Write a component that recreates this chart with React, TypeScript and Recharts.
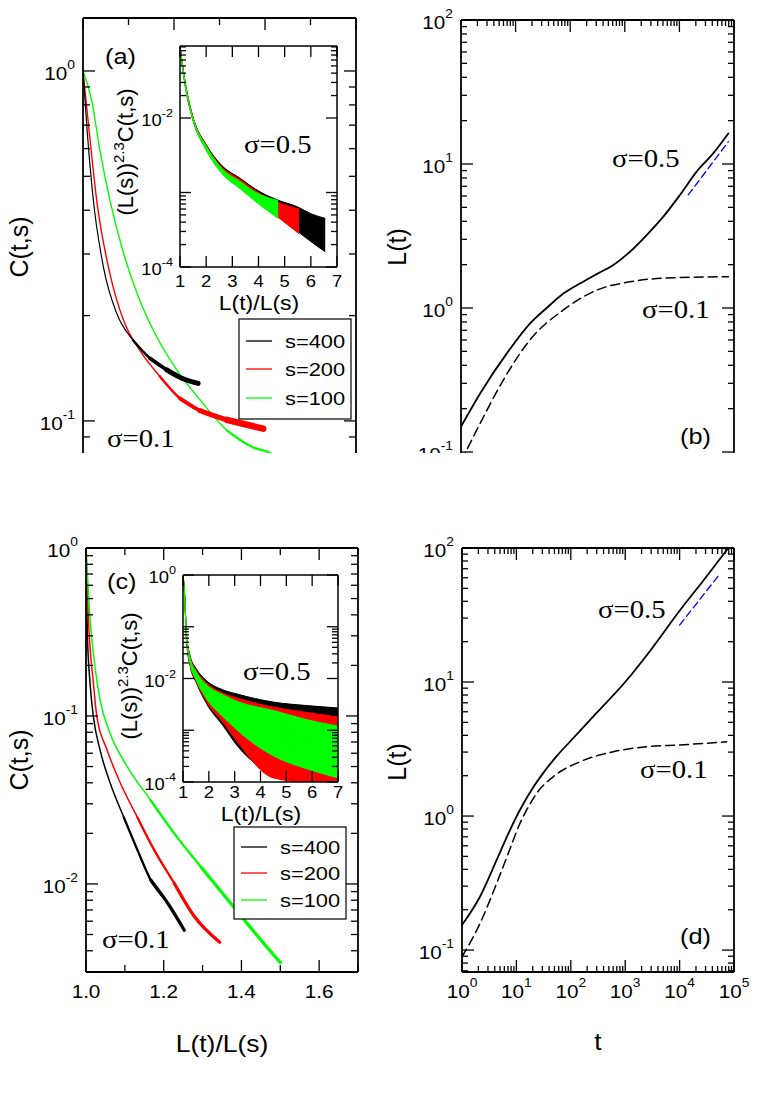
import React from 'react';
import { ComposedChart, Line, Area, XAxis, YAxis, CartesianGrid } from 'recharts';

const SX = 1.15;
const SANS = '"Liberation Sans", Arial, Helvetica, sans-serif';
const SERIF = '"Liberation Serif", "Times New Roman", Times, serif';
const BLACK = '#000000';
const RED = '#ff0000';
const GREEN = '#00ff00';
const BLUE = '#0000ff';

// ---------------- Panel (a): C(t,s) vs L(t)/L(s), sigma = 0.1
const a_x400 = [1.0, 1.0095, 1.0227, 1.0447, 1.074, 1.11, 1.147, 1.184, 1.22, 1.253];
const a_y400 = [1.0, 0.664, 0.428, 0.276, 0.203, 0.17, 0.151, 0.14, 0.132, 0.128];
const a_x200 = [1.0, 1.014, 1.03, 1.059, 1.089, 1.125, 1.169, 1.213, 1.257, 1.316, 1.396];
const a_y200 = [1.0, 0.664, 0.428, 0.264, 0.194, 0.159, 0.134, 0.116, 0.107, 0.1007, 0.095];
const a_x100 = [1.0, 1.019, 1.037, 1.059, 1.089, 1.125, 1.162, 1.206, 1.257, 1.316, 1.374, 1.411, 1.43];
const a_y100 = [1.0, 0.826, 0.595, 0.428, 0.302, 0.221, 0.174, 0.14, 0.115, 0.094, 0.084, 0.081, 0.078];

// Inset (a): (L(s))^2.3 C(t,s) vs L(t)/L(s), sigma = 0.5 (noisy bands: low / high)
const ia_x400 = [1.0, 1.2, 1.5, 2.0, 2.6, 3.3, 3.9, 4.7, 5.5, 6.0, 6.55];
const ia_hi400 = [0.092, 0.03, 0.0102, 0.0044, 0.0023, 0.00155, 0.0011, 0.0008, 0.00064, 0.00052, 0.00045];
const ia_lo400 = [0.088, 0.027, 0.0093, 0.0038, 0.0019, 0.00118, 0.0008, 0.00052, 0.0003, 0.00022, 0.00016];
const ia_x200 = [1.0, 1.2, 1.5, 2.0, 2.6, 3.3, 3.9, 4.7, 5.55];
const ia_hi200 = [0.091, 0.0295, 0.0101, 0.0043, 0.0022, 0.0015, 0.00105, 0.00075, 0.0006];
const ia_lo200 = [0.088, 0.027, 0.0094, 0.0038, 0.0019, 0.0012, 0.00082, 0.00048, 0.00028];
const ia_x100 = [1.0, 1.2, 1.5, 2.0, 2.6, 3.3, 3.9, 4.75];
const ia_hi100 = [0.09, 0.029, 0.0099, 0.0042, 0.0021, 0.0014, 0.001, 0.00078];
const ia_lo100 = [0.088, 0.027, 0.0093, 0.0037, 0.0018, 0.00112, 0.00075, 0.00045];

// ---------------- Panel (b): L(t) vs t
const b_t05 = [1, 2.24, 6.9, 18.3, 37, 75, 151, 305, 617, 1245, 2515, 5070, 10240, 20700, 41900, 78600];
const b_L05 = [0.15, 0.255, 0.484, 0.78, 1.0, 1.26, 1.48, 1.72, 1.99, 2.46, 3.21, 4.31, 6.1, 8.85, 11.9, 16.3];
const b_t01 = [1.0, 1.18, 2.24, 5.96, 18.3, 75, 305, 1230, 5000, 79000];
const b_L01 = [0.087, 0.098, 0.158, 0.316, 0.6, 0.97, 1.33, 1.52, 1.61, 1.65];
const b_tFit = [14500, 79000];
const b_LFit = [6.1, 14.3];

// ---------------- Panel (c): C(t,s) vs L(t)/L(s), sigma = 0.1
const c_x400 = [1.0, 1.0034, 1.0104, 1.019, 1.036, 1.062, 1.097, 1.132, 1.166, 1.21, 1.253];
const c_y400 = [1.0, 0.311, 0.157, 0.099, 0.063, 0.04, 0.025, 0.016, 0.0106, 0.0077, 0.0053];
const c_x200 = [1.0, 1.006, 1.019, 1.028, 1.054, 1.088, 1.132, 1.175, 1.227, 1.279, 1.344];
const c_y200 = [1.0, 0.39, 0.157, 0.099, 0.063, 0.04, 0.025, 0.016, 0.0101, 0.0064, 0.0045];
const c_x100 = [1.0, 1.01, 1.023, 1.036, 1.062, 1.106, 1.166, 1.227, 1.296, 1.366, 1.435, 1.5];
const c_y100 = [1.0, 0.39, 0.197, 0.125, 0.079, 0.05, 0.0316, 0.02, 0.0126, 0.008, 0.0051, 0.0034];

// Inset (c), sigma = 0.5
const ic_x = [1.0, 1.05, 1.14, 1.27, 1.53, 1.92, 2.56, 3.1, 4.5, 5.79, 7.0];
const ic_hi400 = [1.0, 0.55, 0.07, 0.028, 0.015, 0.009, 0.006, 0.005, 0.0035, 0.003, 0.0027];
const ic_lo400 = [1.0, 0.49, 0.052, 0.018, 0.008, 0.0032, 0.0012, 0.0005, 0.00015, 0.00012, 0.00012];
const ic_hi200 = [1.0, 0.54, 0.068, 0.027, 0.014, 0.0082, 0.0052, 0.0042, 0.0028, 0.0022, 0.0018];
const ic_lo200 = [1.0, 0.5, 0.054, 0.019, 0.0085, 0.0035, 0.0014, 0.0006, 0.00012, 0.0001, 0.0001];
const ic_hi100 = [1.0, 0.53, 0.066, 0.026, 0.013, 0.0075, 0.0048, 0.0036, 0.0024, 0.0016, 0.0012];
const ic_lo100 = [1.0, 0.51, 0.056, 0.02, 0.009, 0.004, 0.0018, 0.001, 0.00032, 0.00018, 0.00012];

// ---------------- Panel (d): L(t) vs t
const d_t05 = [1, 2.14, 4.34, 7, 11.6, 20, 31.3, 55, 97, 300, 1000, 3000, 10000, 30000, 78600];
const d_L05 = [0.154, 0.25, 0.47, 0.73, 1.11, 1.62, 2.1, 2.8, 3.6, 5.9, 10.0, 17.5, 34, 60, 100];
const d_t01 = [1.0, 2.14, 4.34, 7, 11.6, 16, 23.6, 47.8, 147, 604, 2483, 10000, 73400];
const d_L01 = [0.089, 0.158, 0.315, 0.52, 0.88, 1.14, 1.48, 1.97, 2.54, 3.02, 3.29, 3.39, 3.58];
const d_tFit = [10000, 55000];
const d_LFit = [26.6, 64];

// legend
const legendNames = ['s=400', 's=200', 's=100'];
const legendColors = [BLACK, RED, GREEN];

// ticks
const linTicksA = [1.0, 1.1, 1.2, 1.3, 1.4, 1.5, 1.6];
const linMajorsA = [1.0, 1.2, 1.4, 1.6];
const linTicksC = [1.0, 1.1, 1.2, 1.3, 1.4, 1.5, 1.6, 1.7];
const insetXTicks = [1, 2, 3, 4, 5, 6, 7];
const insetAYTicks = [0.0001, 0.0002, 0.0003, 0.0004, 0.0005, 0.0006, 0.0007, 0.0008, 0.0009, 0.001, 0.01, 0.02, 0.03, 0.04, 0.05, 0.06, 0.07, 0.08, 0.09];
const insetCYTicks = [0.0001, 0.0002, 0.0003, 0.0004, 0.0005, 0.0006, 0.0007, 0.0008, 0.0009, 0.001, 0.01, 0.02, 0.03, 0.04, 0.05, 0.06, 0.07, 0.08, 0.09, 0.1, 1];

function logTicks(lo: number, hi: number): number[] {
  const out: number[] = [];
  for (let e = Math.floor(Math.log10(lo)); e <= Math.ceil(Math.log10(hi)); e++) {
    for (let k = 1; k <= 9; k++) {
      const v = +(k * Math.pow(10, e)).toPrecision(6);
      if (v >= lo * 0.999999 && v <= hi * 1.000001) out.push(v);
    }
  }
  return out;
}
function decades(lo: number, hi: number): number[] {
  const out: number[] = [];
  for (let e = Math.ceil(Math.log10(lo) - 1e-9); e <= Math.floor(Math.log10(hi) + 1e-9); e++) out.push(+Math.pow(10, e).toPrecision(6));
  return out;
}

function pts(xs: number[], ys: number[]) {
  return xs.map((x, i) => ({ x, y: ys[i] }));
}
function band(xs: number[], lo: number[], hi: number[]) {
  return xs.map((x, i) => ({ x, band: [lo[i], hi[i]] }));
}

const near = (a: number, b: number) => Math.abs(a - b) <= 1e-6 * Math.max(Math.abs(a), Math.abs(b), 1e-12);

const pow10 = (supSize: number, rise: number) => (v: number) => {
  const e = Math.round(Math.log10(v));
  return [
    <tspan key="b">10</tspan>,
    <tspan key="e" dy={-rise} fontSize={supSize}>{String(e)}</tspan>,
  ];
};
const fixed1 = (v: number) => v.toFixed(1);
const plain = (v: number) => String(v);

type Side = 'left' | 'right' | 'top' | 'bottom';
interface AxisSpec {
  ticks: number[];
  majors: number[];
  labeled?: number[];
  label?: (v: number) => React.ReactNode;
}

function tickRenderer(side: Side, spec: AxisSpec, major: number, minor: number, font: number, labelOn: boolean, gap: number, dy: number) {
  return (props: any) => {
    const x = Number(props.x);
    const y = Number(props.y);
    const v = Number(props.payload ? props.payload.value : NaN);
    const isMajor = spec.majors.some((m) => near(m, v));
    const len = isMajor ? major : minor;
    let x2 = x;
    let y2 = y;
    if (side === 'left') x2 = x + len;
    else if (side === 'right') x2 = x - len;
    else if (side === 'top') y2 = y + len;
    else y2 = y - len;
    const labeled = spec.labeled ?? spec.majors;
    const show = labelOn && !!spec.label && labeled.some((m) => near(m, v));
    let lab: React.ReactNode = null;
    if (show) {
      if (side === 'left') {
        lab = (
          <g transform={`translate(${x - gap},${y + dy}) scale(${SX},1)`}>
            <text x={0} y={0} textAnchor="end" fontSize={font} fontFamily={SANS} fill="#000">{spec.label!(v)}</text>
          </g>
        );
      } else if (side === 'bottom') {
        lab = (
          <g transform={`translate(${x},${y + gap}) scale(${SX},1)`}>
            <text x={0} y={0} textAnchor="middle" fontSize={font} fontFamily={SANS} fill="#000">{spec.label!(v)}</text>
          </g>
        );
      }
    }
    return (
      <g>
        <line x1={x} y1={y} x2={x2} y2={y2} stroke="#000" strokeWidth={1.3} />
        {lab}
      </g>
    );
  };
}

const P = 70;

interface PanelProps {
  box: [number, number, number, number];
  clipBottom?: number;
  xDomain: [number, number];
  yDomain: [number, number];
  xLog?: boolean;
  yLog?: boolean;
  xAxis: AxisSpec;
  yAxis: AxisSpec;
  major: number;
  minor: number;
  font: number;
  xGap: number;
  yGap: number;
  yDy: number;
  frame: number;
  bg?: boolean;
  labelBottom?: boolean;
  children: React.ReactNode;
}

function Panel(p: PanelProps) {
  const [l, t, r, b] = p.box;
  const W = r - l + 2 * P;
  const H = b - t + 2 * P;
  const divH = p.clipBottom != null ? p.clipBottom - (t - P) : H;
  const axisLine = { stroke: '#000', strokeWidth: p.frame };
  const xs = p.xLog ? 'log' : 'linear';
  const ys = p.yLog ? 'log' : 'linear';
  const lb = p.labelBottom !== false;
  return (
    <div style={{ position: 'absolute', left: l - P, top: t - P, width: W, height: divH, overflow: 'hidden' }}>
      <ComposedChart width={W} height={H} margin={{ top: P - 1, right: P - 1, bottom: P - 1, left: P - 1 }}>
        {p.bg ? <CartesianGrid xAxisId="b" yAxisId="l" horizontal={false} vertical={false} fill="#ffffff" stroke="none" /> : null}
        <XAxis xAxisId="b" dataKey="x" orientation="bottom" height={1} type="number" scale={xs} domain={p.xDomain} allowDataOverflow
          ticks={p.xAxis.ticks} interval={0} tickSize={0} tickMargin={0} tickLine={false} axisLine={axisLine}
          tick={tickRenderer('bottom', p.xAxis, p.major, p.minor, p.font, lb, p.xGap, 0)} />
        <XAxis xAxisId="t" dataKey="x" orientation="top" height={1} type="number" scale={xs} domain={p.xDomain} allowDataOverflow
          ticks={p.xAxis.ticks} interval={0} tickSize={0} tickMargin={0} tickLine={false} axisLine={axisLine}
          tick={tickRenderer('top', p.xAxis, p.major, p.minor, p.font, false, 0, 0)} />
        <YAxis yAxisId="l" orientation="left" width={1} type="number" scale={ys} domain={p.yDomain} allowDataOverflow
          ticks={p.yAxis.ticks} interval={0} tickSize={0} tickMargin={0} tickLine={false} axisLine={axisLine}
          tick={tickRenderer('left', p.yAxis, p.major, p.minor, p.font, true, p.yGap, p.yDy)} />
        <YAxis yAxisId="r" orientation="right" width={1} type="number" scale={ys} domain={p.yDomain} allowDataOverflow
          ticks={p.yAxis.ticks} interval={0} tickSize={0} tickMargin={0} tickLine={false} axisLine={axisLine}
          tick={tickRenderer('right', p.yAxis, p.major, p.minor, p.font, false, 0, 0)} />
        {p.children}
      </ComposedChart>
    </div>
  );
}

function mkLine(key: string, data: any[], color: string, width: number, dash?: string) {
  return (
    <Line key={key} data={data} dataKey="y" xAxisId="b" yAxisId="l" type="monotone" stroke={color} strokeWidth={width}
      strokeDasharray={dash} strokeLinecap="round" dot={false} activeDot={false} isAnimationActive={false} legendType="none" />
  );
}
// noisy tail drawn as progressively thicker overlapping strokes starting at given x values
function mkTail(key: string, data: { x: number; y: number }[], color: string, starts: number[], widths: number[]) {
  return starts.map((s, i) => mkLine(`${key}${i}`, data.filter((d) => d.x >= s), color, widths[i]));
}
function mkBand(key: string, data: any[], color: string) {
  return (
    <Area key={key} data={data} dataKey="band" xAxisId="b" yAxisId="l" type="monotone" stroke={color} strokeWidth={1}
      fill={color} fillOpacity={1} dot={false} activeDot={false} isAnimationActive={false} legendType="none" />
  );
}

function Txt(props: { x: number; y: number; size: number; family?: string; anchor?: 'start' | 'middle' | 'end'; rotate?: number; sx?: number; children: React.ReactNode }) {
  const { x, y, size, family = SANS, anchor = 'start', rotate = 0, sx = SX } = props;
  return (
    <g transform={`translate(${x},${y}) rotate(${rotate}) scale(${sx},1)`}>
      <text x={0} y={0} fontSize={size} fontFamily={family} textAnchor={anchor} fill="#000">{props.children}</text>
    </g>
  );
}

function LegendBox(props: { x: number; y: number; w: number; h: number; rows: number[] }) {
  const { x, y, w, h, rows } = props;
  return (
    <g>
      <rect x={x} y={y} width={w} height={h} fill="#fff" stroke="#000" strokeWidth={1.2} />
      {legendNames.map((name, i) => (
        <g key={name}>
          <line x1={x + 7} x2={x + 33} y1={y + rows[i]} y2={y + rows[i]} stroke={legendColors[i]} strokeWidth={1.3} />
          <Txt x={x + 46} y={y + rows[i] + 7} size={19}>{name}</Txt>
        </g>
      ))}
    </g>
  );
}

export default function App() {
  const mainLog = pow10(12, 11);
  const insetLog = pow10(11, 9);

  const aYDom: [number, number] = [0.0724, 1.417];
  const bYDom: [number, number] = [0.075, 100];
  const cYDom: [number, number] = [0.00299, 1];
  const dYDom: [number, number] = [0.0686, 100];
  const tDom: [number, number] = [1, 100000];

  const a400 = pts(a_x400, a_y400);
  const a200 = pts(a_x200, a_y200);
  const a100 = pts(a_x100, a_y100);
  const c400 = pts(c_x400, c_y400);
  const c200 = pts(c_x200, c_y200);
  const c100 = pts(c_x100, c_y100);

  return (
    <div style={{ position: 'absolute', left: 0, top: 0, width: 757, height: 1112, background: '#fff', overflow: 'hidden' }}>
      {/* (a) */}
      <Panel box={[83, 18, 356, 470]} clipBottom={453} xDomain={[1.0, 1.6]} yDomain={aYDom} labelBottom={false}
        yLog xAxis={{ ticks: linTicksA, majors: linMajorsA, label: fixed1 }}
        yAxis={{ ticks: logTicks(aYDom[0], aYDom[1]), majors: decades(aYDom[0], aYDom[1]), label: mainLog }}
        major={12} minor={7} font={18} xGap={26} yGap={8} yDy={9} frame={1.8}>
        {[
          mkLine('a100', a100, GREEN, 1.4),
          mkLine('a200', a200, RED, 1.4),
          mkLine('a400', a400, BLACK, 1.2),
          ...mkTail('a400t', a400, BLACK, [1.11, 1.147, 1.184], [2.5, 3.8, 5]),
          ...mkTail('a200t', a200, RED, [1.169, 1.213, 1.257, 1.316], [2.5, 3.8, 5, 6.5]),
          ...mkTail('a100t', a100, GREEN, [1.316], [2.2]),
        ]}
      </Panel>
      {/* inset (a) */}
      <Panel box={[180, 46, 337, 267]} xDomain={[1, 7]} yDomain={[0.0001, 0.0925]} yLog bg
        xAxis={{ ticks: insetXTicks, majors: insetXTicks, label: plain }}
        yAxis={{ ticks: insetAYTicks, majors: [0.0001, 0.001, 0.01], labeled: [0.0001, 0.01], label: insetLog }}
        major={11} minor={6} font={16} xGap={20} yGap={7} yDy={8} frame={1.5}>
        {[
          mkBand('ia400', band(ia_x400, ia_lo400, ia_hi400), BLACK),
          mkBand('ia200', band(ia_x200, ia_lo200, ia_hi200), RED),
          mkBand('ia100', band(ia_x100, ia_lo100, ia_hi100), GREEN),
        ]}
      </Panel>

      {/* (b) */}
      <Panel box={[461, 20, 734, 470]} clipBottom={453} xDomain={tDom} yDomain={bYDom} xLog yLog labelBottom={false}
        xAxis={{ ticks: logTicks(1, 100000), majors: decades(1, 100000), label: mainLog }}
        yAxis={{ ticks: logTicks(bYDom[0], bYDom[1]), majors: decades(bYDom[0], bYDom[1]), label: mainLog }}
        major={12} minor={6} font={18} xGap={26} yGap={8} yDy={9} frame={1.8}>
        {[
          mkLine('b05', pts(b_t05, b_L05), BLACK, 1.8),
          mkLine('b01', pts(b_t01, b_L01), BLACK, 1.5, '9 5'),
          mkLine('bfit', pts(b_tFit, b_LFit), BLUE, 1.3, '7 4'),
        ]}
      </Panel>

      {/* (c) */}
      <Panel box={[86, 548, 358, 972]} xDomain={[1.0, 1.7]} yDomain={cYDom} yLog
        xAxis={{ ticks: linTicksC, majors: linMajorsA, label: fixed1 }}
        yAxis={{ ticks: logTicks(cYDom[0], cYDom[1]), majors: decades(cYDom[0], cYDom[1]), label: mainLog }}
        major={12} minor={7} font={18} xGap={26} yGap={8} yDy={9} frame={1.8}>
        {[
          mkLine('c400', c400, BLACK, 1.5),
          mkLine('c200', c200, RED, 1.5),
          mkLine('c100', c100, GREEN, 1.5),
          ...mkTail('c400t', c400, BLACK, [1.097, 1.166], [2.2, 3.2]),
          ...mkTail('c200t', c200, RED, [1.132, 1.227], [2.2, 3.2]),
          ...mkTail('c100t', c100, GREEN, [1.166, 1.296], [2.2, 3.2]),
        ]}
      </Panel>
      {/* inset (c) */}
      <Panel box={[183, 575, 338, 782]} xDomain={[1, 7]} yDomain={[0.0001, 1]} yLog bg
        xAxis={{ ticks: insetXTicks, majors: insetXTicks, label: plain }}
        yAxis={{ ticks: insetCYTicks, majors: [0.0001, 0.001, 0.01, 0.1, 1], labeled: [0.0001, 0.01, 1], label: insetLog }}
        major={11} minor={6} font={16} xGap={16} yGap={7} yDy={8} frame={1.5}>
        {[
          mkBand('ic400', band(ic_x, ic_lo400, ic_hi400), BLACK),
          mkBand('ic200', band(ic_x, ic_lo200, ic_hi200), RED),
          mkBand('ic100', band(ic_x, ic_lo100, ic_hi100), GREEN),
        ]}
      </Panel>

      {/* (d) */}
      <Panel box={[462, 548, 734, 972]} xDomain={tDom} yDomain={dYDom} xLog yLog
        xAxis={{ ticks: logTicks(1, 100000), majors: decades(1, 100000), label: mainLog }}
        yAxis={{ ticks: logTicks(dYDom[0], dYDom[1]), majors: decades(dYDom[0], dYDom[1]), label: mainLog }}
        major={12} minor={6} font={18} xGap={26} yGap={8} yDy={9} frame={1.8}>
        {[
          mkLine('d05', pts(d_t05, d_L05), BLACK, 1.8),
          mkLine('d01', pts(d_t01, d_L01), BLACK, 1.5, '9 5'),
          mkLine('dfit', pts(d_tFit, d_LFit), BLUE, 1.3, '7 4'),
        ]}
      </Panel>

      <svg width={757} height={1112} style={{ position: 'absolute', left: 0, top: 0, pointerEvents: 'none' }}>
        {/* axis titles */}
        <Txt x={28} y={247} size={25} rotate={-90} anchor="middle" sx={1}>C(t,s)</Txt>
        <Txt x={28} y={760} size={25} rotate={-90} anchor="middle" sx={1}>C(t,s)</Txt>
        <Txt x={406} y={247} size={25} rotate={-90} anchor="middle" sx={1}>L(t)</Txt>
        <Txt x={406} y={762} size={25} rotate={-90} anchor="middle" sx={1}>L(t)</Txt>
        <Txt x={222} y={1052} size={23} anchor="middle">L(t)/L(s)</Txt>
        <Txt x={598} y={1050} size={23} anchor="middle">t</Txt>

        {/* inset titles */}
        <Txt x={259} y={310} size={20} anchor="middle">L(t)/L(s)</Txt>
        <Txt x={133} y={152} size={22} rotate={-90} anchor="middle" sx={1}>
          (L(s))<tspan dy={-9} fontSize={15}>2.3</tspan><tspan dy={9}>C(t,s)</tspan>
        </Txt>
        <Txt x={261} y={821} size={20} anchor="middle">L(t)/L(s)</Txt>
        <Txt x={137} y={676} size={22} rotate={-90} anchor="middle" sx={1}>
          (L(s))<tspan dy={-9} fontSize={15}>2.3</tspan><tspan dy={9}>C(t,s)</tspan>
        </Txt>

        {/* panel letters */}
        <Txt x={105} y={64} size={22}>(a)</Txt>
        <Txt x={680} y={444} size={22}>(b)</Txt>
        <Txt x={107} y={589} size={22}>(c)</Txt>
        <Txt x={680} y={944} size={22}>(d)</Txt>

        {/* sigma labels */}
        <Txt x={107} y={447} size={25} family={SERIF}>σ=0.1</Txt>
        <Txt x={244} y={153} size={25} family={SERIF}>σ=0.5</Txt>
        <Txt x={612} y={167} size={25} family={SERIF}>σ=0.5</Txt>
        <Txt x={642} y={318} size={25} family={SERIF}>σ=0.1</Txt>
        <Txt x={102} y={948} size={25} family={SERIF}>σ=0.1</Txt>
        <Txt x={243} y={680} size={25} family={SERIF}>σ=0.5</Txt>
        <Txt x={598} y={618} size={25} family={SERIF}>σ=0.5</Txt>
        <Txt x={640} y={778} size={25} family={SERIF}>σ=0.1</Txt>

        {/* legends */}
        <LegendBox x={239} y={319} w={112} h={100} rows={[22, 50, 79]} />
        <LegendBox x={234} y={827} w={112} h={92} rows={[20, 46, 73]} />
      </svg>
    </div>
  );
}
